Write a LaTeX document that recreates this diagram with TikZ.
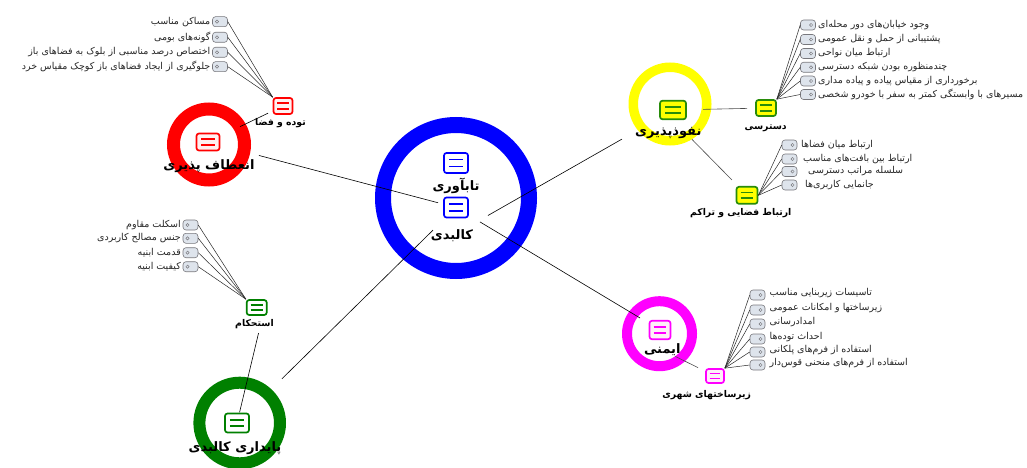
\documentclass[tikz,border=0pt]{standalone}
\usepackage{fontspec}
\usetikzlibrary{calc}
\TeXXeTstate=1
\newfontfamily\farsi[Script=Arabic]{DejaVu Sans}
\newcommand{\rl}[1]{\beginR #1\endR}
\definecolor{cblue}{RGB}{0,0,255}
\definecolor{cred}{RGB}{255,0,0}
\definecolor{cyel}{RGB}{255,255,0}
\definecolor{cmag}{RGB}{255,0,255}
\definecolor{cgreen}{RGB}{0,128,0}
\definecolor{icgreen}{RGB}{40,140,10}
\definecolor{leafc}{RGB}{222,228,236}
\definecolor{leafd}{RGB}{120,120,125}
\begin{document}
\begin{tikzpicture}[x=1pt,y=-1pt,
  ring/.style n args={3}{circle, draw=#1, line width=#2, minimum size=#3, inner sep=0pt},
  ico/.style n args={4}{rectangle, rounded corners=2.5pt, draw=#1, fill=#2, line width=1.7pt,
    minimum width=#3, minimum height=#4, inner sep=0pt,
    path picture={\draw[#1, line width=1.7pt]
      ($(path picture bounding box.center)+(-0.3*#3,0.17*#4)$) -- ++(0.6*#3,0)
      ($(path picture bounding box.center)+(-0.3*#3,-0.17*#4)$) -- ++(0.6*#3,0);}},
  mainlab/.style={font=\farsi\bfseries\fontsize{13}{15}\selectfont, inner sep=0pt},
  sublab/.style={font=\farsi\bfseries\fontsize{9.3}{11}\selectfont, inner sep=0pt},
  leaftxt/.style={font=\farsi\fontsize{9.5}{11}\selectfont, inner sep=0pt, text=black!85},
  leafL/.style={rectangle, rounded corners=3pt, draw=leafd, fill=leafc, line width=0.6pt,
    minimum width=15, minimum height=10, inner sep=0pt,
    path picture={\draw[leafd, line width=0.5pt] ($(path picture bounding box.west)+(4.5,0)$) circle (1.6pt);}},
  leafR/.style={rectangle, rounded corners=3pt, draw=leafd, fill=leafc, line width=0.6pt,
    minimum width=15, minimum height=10, inner sep=0pt,
    path picture={\draw[leafd, line width=0.5pt] ($(path picture bounding box.east)+(-4.5,0)$) circle (1.6pt);}},
  conn/.style={black, line width=0.6pt},
  leafline/.style={black!85, line width=0.5pt}
]
\fill[white] (0,0) rectangle (1027,468);
\useasboundingbox (0,0) rectangle (1027,468);

% rings
\node[ring={cblue}{16pt}{146pt}] (Bring) at (456,198) {};
\node[ring={cred}{13pt}{71pt}] (Rring) at (209,144.5) {};
\node[ring={cyel}{9.5pt}{73.5pt}] (Yring) at (670,104) {};
\node[ring={cmag}{10pt}{65pt}] (Mring) at (659.5,333.7) {};
\node[ring={cgreen}{12pt}{80.6pt}] (Gring) at (239.7,423) {};

% icons
\node[ico={cblue}{white}{24}{20}] (Bicon1) at (456,163) {};
\node[ico={cblue}{white}{24}{20}] (Bicon2) at (456,207.5) {};
\node[ico={cred}{red!6}{23}{17}] (Ricon) at (208,142) {};
\node[ico={cred}{red!6}{19}{16}] (Ticon) at (283,106) {};
\node[ico={icgreen}{cyel}{26}{18.5}] (Yicon) at (673,110) {};
\node[ico={icgreen}{cyel}{20}{16}] (Dicon) at (766,108) {};
\node[ico={icgreen}{cyel}{21}{17}] (Eicon) at (747,195.3) {};
\node[ico={cmag}{magenta!6}{21}{18.5}] (Micon) at (660,330) {};
\node[ico={cmag}{magenta!6}{18}{14}] (Zicon) at (715,376) {};
\node[ico={cgreen}{white}{24}{19}] (Gicon) at (237,423) {};
\node[ico={cgreen}{white}{20}{15}] (Iicon) at (256.7,307.5) {};

% labels
\node[mainlab] (Blab1) at (456,186) {\rl{تابآوری}};
\node[mainlab] (Blab2) at (452,236) {\rl{کالبدی}};
\node[mainlab] (Rlab) at (209,166) {\rl{انعطاف پذیری}};
\node[sublab] (Tlab) at (280.5,123.3) {\rl{توده و فضا}};
\node[mainlab] (Ylab) at (668.3,133.3) {\rl{نفوذپذیری}};
\node[sublab] (Dlab) at (765.7,128.3) {\rl{دسترسی}};
\node[sublab] (Elab) at (740.7,213.3) {\rl{ارتباط فضایی و تراکم}};
\node[mainlab] (Mlab) at (662.3,350) {\rl{ایمنی}};
\node[sublab] (Zlab) at (706.7,395) {\rl{زیرساختهای شهری}};
\node[mainlab] (Glab) at (235,448.3) {\rl{پایداری کالبدی}};
\node[sublab] (Ilab) at (254.5,324.3) {\rl{استحکام}};

% main connectors
\draw[conn, shorten <=52.7, shorten >=18.6] (Ricon.center) -- (Bicon2.center);
\draw[conn, shorten <=41.4, shorten >=58.7] (Blab2.center) -- (Yicon.center);
\draw[conn, shorten <=28, shorten >=23.3] (Bicon2.center) -- (Micon.center);
\draw[conn, shorten <=32.3, shorten >=63] (Bicon2.center) -- (Gicon.center);
\draw[conn, shorten <=16.6, shorten >=35.5] (Ticon.center) -- (Ricon.center);
\draw[conn, black!70, shorten <=30, shorten >=19] (Yicon.center) -- (Dicon.center);
\draw[conn, black!70, shorten <=27, shorten >=21.5] (Yicon.south) -- (Eicon.center);
\draw[conn, black!70, shorten <=14.5, shorten >=18.9] (Mlab.center) -- (Zicon.center);
\draw[conn, shorten <=4, shorten >=11] ($(Ilab.south)+(5,0)$) -- (Gicon.center);

% leaves: tude va faza
\foreach \i/\y/\t in {1/21.7/مساکن مناسب, 2/37.3/گونه‌های بومی, 3/52.3/اختصاص درصد مناسبی از بلوک به فضاهای باز, 4/66.7/جلوگیری از ایجاد فضاهای باز کوچک مقیاس خرد}{
  \node[leafL] (T\i) at (220,\y) {};
  \node[leaftxt, anchor=east] (Tt\i) at (210.5,\y) {\rl{\t}};
  \draw[leafline] (T\i.east) -- (Ticon.north west);
}
% leaves: dastresi
\foreach \i/\y/\t in {1/25/وجود خیابان‌های دور محله‌ای, 2/39.5/پشتیبانی از حمل و نقل عمومی, 3/53.5/ارتباط میان نواحی, 4/67.3/چندمنظوره بودن شبکه دسترسی, 5/81/برخورداری از مقیاس پیاده و پیاده مداری, 6/94.5/مسیرهای با وابستگی کمتر به سفر با خودرو شخصی}{
  \node[leafR] (D\i) at (808,\y) {};
  \node[leaftxt, anchor=west] (Dt\i) at (818,\y) {\rl{\t}};
  \draw[leafline] (D\i.west) -- (Dicon.north east);
}
% leaves: ertebat fazayi
\foreach \i/\y/\x/\t in {1/145/801/ارتباط میان فضاها, 2/159/803/ارتباط بین بافت‌های مناسب, 3/171.5/808/سلسله مراتب دسترسی, 4/185/805/جانمایی کاربری‌ها}{
  \node[leafR] (E\i) at (789.5,\y) {};
  \node[leaftxt, anchor=west] (Et\i) at (\x,\y) {\rl{\t}};
  \draw[leafline] (E\i.west) -- (Eicon.east);
}
% leaves: zirsakht
\foreach \i/\y/\t in {1/295/تاسیسات زیربنایی مناسب, 2/310/زیرساختها و امکانات عمومی, 3/324/امدادرسانی, 4/339/احداث توده‌ها, 5/352/استفاده از فرم‌های پلکانی, 6/365/استفاده از فرم‌های منحنی قوس‌دار}{
  \node[leafR] (Z\i) at (757.5,\y) {};
  \node[leaftxt, anchor=west] (Zt\i) at (769.5,\y-1.5) {\rl{\t}};
  \draw[leafline] (Z\i.west) -- (Zicon.north east);
}
% leaves: estehkam
\foreach \i/\y/\t in {1/225/اسکلت مقاوم, 2/238.3/جنس مصالح کاربردی, 3/252.7/قدمت ابنیه, 4/266.7/کیفیت ابنیه}{
  \node[leafL] (I\i) at (190.5,\y) {};
  \node[leaftxt, anchor=east] (It\i) at (181,\y) {\rl{\t}};
  \draw[leafline] (I\i.east) -- (Iicon.north west);
}
\end{tikzpicture}
\end{document}
